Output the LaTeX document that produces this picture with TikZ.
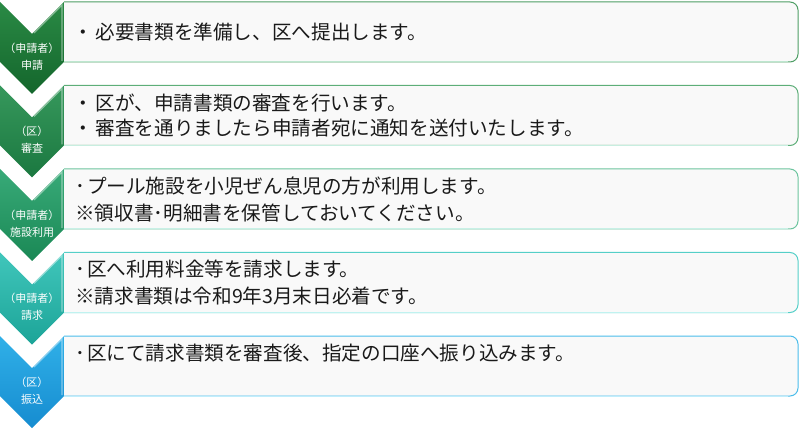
\documentclass[tikz,border=0pt]{standalone}
\usepackage{fontspec}
\newfontfamily\jpfont{Noto Sans CJK JP}
\definecolor{boxgray}{HTML}{F9F9F9}
\definecolor{textblack}{HTML}{1A1A1A}
\definecolor{chevAt}{HTML}{2A8A45}\definecolor{chevAb}{HTML}{14662C}
\definecolor{chevBt}{HTML}{36985C}\definecolor{chevBb}{HTML}{1B7840}
\definecolor{chevCt}{HTML}{38AA78}\definecolor{chevCb}{HTML}{1A8855}
\definecolor{chevDt}{HTML}{40C6BB}\definecolor{chevDb}{HTML}{1CA498}
\definecolor{chevEt}{HTML}{30B0E8}\definecolor{chevEb}{HTML}{168CD0}
\definecolor{boxA}{HTML}{4E9E65}\definecolor{boxAl}{HTML}{BDE6CF}
\definecolor{boxB}{HTML}{5DAE78}\definecolor{boxBl}{HTML}{C8EEE0}
\definecolor{boxC}{HTML}{6CC49E}\definecolor{boxCl}{HTML}{C8F0E6}
\definecolor{boxD}{HTML}{55CFC8}\definecolor{boxDl}{HTML}{C0F2F0}
\definecolor{boxE}{HTML}{4BBDEB}\definecolor{boxEl}{HTML}{C0EEFC}

\begin{document}
\begin{tikzpicture}[x=1pt,y=-1pt,stepbox/.style={fill=boxgray,line width=1pt,rounded corners=8pt},stepedge/.style={line width=1pt},bevel/.style={draw=white,opacity=0.45,line width=1.2pt},steplabel/.style={text=white,inner sep=0pt,font=\jpfont\fontsize{11}{11}\selectfont},steptext/.style={anchor=west,inner sep=0pt,text=textblack,font=\jpfont\fontsize{19.6}{19.6}\selectfont}]
\def\ya{2};
\def\yb{85.5};
\def\yc{169};
\def\yd{252.5};
\def\ye{336};
\def\bx{798};

\useasboundingbox (0,0) rectangle (800,430);

% row 1
\path[stepbox,draw=boxA] (64,\ya) -- (\bx,\ya) -- (\bx,\ya+60) -- (64,\ya+60);
\draw[stepedge,boxAl] (64,\ya+60) -- (788,\ya+60);
\shade[top color=chevAt,bottom color=chevAb] (0,\ya) -- (32,\ya+32) -- (64,\ya) -- (64,\ya+60) -- (32,\ya+92) -- (0,\ya+60) -- cycle;
\draw[bevel] (34,\ya+31) -- (62,\ya+3) -- (62,\ya+59);
\node[steplabel] (who1) at (32,\ya+46) {（申請者）};
\node[steplabel] (step1) at (32,\ya+63) {申請};
\node[steptext] (txt1) at (73,\ya+30) {・\hspace{3pt}必要書類を準備し、区へ提出します。};

% row 2
\path[stepbox,draw=boxB] (64,\yb) -- (\bx,\yb) -- (\bx,\yb+60) -- (64,\yb+60);
\draw[stepedge,boxBl] (64,\yb+60) -- (788,\yb+60);
\shade[top color=chevBt,bottom color=chevBb] (0,\yb) -- (32,\yb+32) -- (64,\yb) -- (64,\yb+60) -- (32,\yb+92) -- (0,\yb+60) -- cycle;
\draw[bevel] (34,\yb+31) -- (62,\yb+3) -- (62,\yb+59);
\node[steplabel] (who2) at (32,\yb+46) {（区）};
\node[steplabel] (step2) at (32,\yb+63) {審査};
\node[steptext] (txt2a) at (73,\yb+18) {・\hspace{3pt}区が、申請書類の審査を行います。};
\node[steptext] (txt2b) at (73,\yb+43) {・\hspace{3pt}審査を通りましたら申請者宛に通知を送付いたします。};

% row 3
\path[stepbox,draw=boxC] (64,\yc) -- (\bx,\yc) -- (\bx,\yc+60) -- (64,\yc+60);
\draw[stepedge,boxCl] (64,\yc+60) -- (788,\yc+60);
\shade[top color=chevCt,bottom color=chevCb] (0,\yc) -- (32,\yc+32) -- (64,\yc) -- (64,\yc+60) -- (32,\yc+92) -- (0,\yc+60) -- cycle;
\draw[bevel] (34,\yc+31) -- (62,\yc+3) -- (62,\yc+59);
\node[steplabel] (who3) at (32,\yc+46) {（申請者）};
\node[steplabel] (step3) at (32,\yc+63) {施設利用};
\node[steptext] (txt3a) at (75,\yc+17) {･\hspace{2pt}プール施設を小児ぜん息児の方が利用します。};
\node[steptext] (txt3b) at (75,\yc+44) {※領収書･明細書を保管しておいてください。};

% row 4
\path[stepbox,draw=boxD] (64,\yd) -- (\bx,\yd) -- (\bx,\yd+60) -- (64,\yd+60);
\draw[stepedge,boxDl] (64,\yd+60) -- (788,\yd+60);
\shade[top color=chevDt,bottom color=chevDb] (0,\yd) -- (32,\yd+32) -- (64,\yd) -- (64,\yd+60) -- (32,\yd+92) -- (0,\yd+60) -- cycle;
\draw[bevel] (34,\yd+31) -- (62,\yd+3) -- (62,\yd+59);
\node[steplabel] (who4) at (32,\yd+46) {（申請者）};
\node[steplabel] (step4) at (32,\yd+63) {請求};
\node[steptext] (txt4a) at (75,\yd+17) {･\hspace{2pt}区へ利用料金等を請求します。};
\node[steptext] (txt4b) at (75,\yd+44) {※請求書類は令和9年3月末日必着です。};

% row 5
\path[stepbox,draw=boxE] (64,\ye) -- (\bx,\ye) -- (\bx,\ye+60) -- (64,\ye+60);
\draw[stepedge,boxEl] (64,\ye+60) -- (788,\ye+60);
\shade[top color=chevEt,bottom color=chevEb] (0,\ye) -- (32,\ye+32) -- (64,\ye) -- (64,\ye+60) -- (32,\ye+92) -- (0,\ye+60) -- cycle;
\draw[bevel] (34,\ye+31) -- (62,\ye+3) -- (62,\ye+59);
\node[steplabel] (who5) at (32,\ye+46) {（区）};
\node[steplabel] (step5) at (32,\ye+63) {振込};
\node[steptext] (txt5) at (75,\ye+17) {･\hspace{2pt}区にて請求書類を審査後、指定の口座へ振り込みます。};
\end{tikzpicture}
\end{document}
